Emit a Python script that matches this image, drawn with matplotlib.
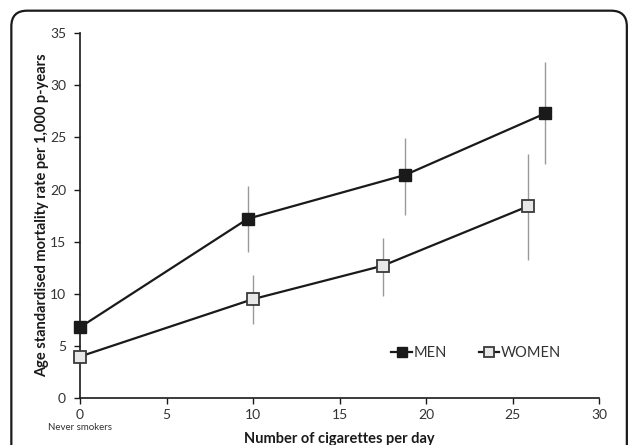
import matplotlib
matplotlib.use("Agg")
import matplotlib.pyplot as plt
from matplotlib.patches import FancyBboxPatch

plt.rcParams['font.family'] = ['Lato', 'DejaVu Sans']

### Data ###
menX = [0, 9.7, 18.8, 26.9]
menY = [6.8, 17.2, 21.4, 27.3]
menLow = [6.8, 14.0, 17.6, 22.4]
menHigh = [6.8, 20.3, 24.9, 32.2]

womenX = [0, 10.0, 17.5, 25.9]
womenY = [4.0, 9.5, 12.7, 18.4]
womenLow = [4.0, 7.1, 9.8, 13.2]
womenHigh = [4.0, 11.8, 15.4, 23.4]

xTicks = [0, 5, 10, 15, 20, 25, 30]
yTicks = [0, 5, 10, 15, 20, 25, 30, 35]

fig = plt.figure(figsize=(6.3, 4.45), dpi=100, facecolor='w')

# rounded border around the figure
frame = FancyBboxPatch((0.018, -0.1), 0.977, 1.076, boxstyle="round,pad=0,rounding_size=0.025",
	transform=fig.transFigure, facecolor='none', edgecolor='#1a1a1a', linewidth=1.6,
	mutation_aspect=630 / 445.0)
fig.patches.append(frame)

ax = fig.add_axes([0.127, 0.105, 0.824, 0.821])

def errs(y, lo, hi):
	return [[v - l for v, l in zip(y, lo)], [h - v for v, h in zip(y, hi)]]

ax.errorbar(menX, menY, yerr=errs(menY, menLow, menHigh), fmt='none', ecolor='#9a9a9a',
	elinewidth=1.0, capsize=0, zorder=1)
ax.errorbar(womenX, womenY, yerr=errs(womenY, womenLow, womenHigh), fmt='none', ecolor='#9a9a9a',
	elinewidth=1.0, capsize=0, zorder=1)

ax.plot(menX, menY, '-', color='#1a1a1a', linewidth=1.6, marker='s', markersize=8.5,
	markerfacecolor='#1a1a1a', markeredgecolor='#1a1a1a', label='MEN', zorder=3, clip_on=False)
ax.plot(womenX, womenY, '-', color='#1a1a1a', linewidth=1.6, marker='s', markersize=8.5,
	markerfacecolor='#e8e8e8', markeredgecolor='#3a3a3a', markeredgewidth=1.3, label='WOMEN',
	zorder=3, clip_on=False)

ax.set_xlim(0, 30)
ax.set_ylim(0, 35)
ax.set_xticks(xTicks)
ax.set_yticks(yTicks)

for side in ['top', 'right']:
	ax.spines[side].set_visible(False)
for side in ['left', 'bottom']:
	ax.spines[side].set_color('#1a1a1a')
	ax.spines[side].set_linewidth(1.2)

ax.tick_params(direction='out', length=4, width=1.0, color='#1a1a1a', labelsize=10, labelcolor='#333333')
ax.tick_params(axis='y', pad=6)
ax.tick_params(axis='x', pad=4)

ax.set_xlabel('Number of cigarettes per day', fontsize=10.5, weight='bold', color='#1a1a1a')
ax.xaxis.set_label_coords(0.5, -0.112)
ax.xaxis.label.set_va('center')
ax.set_ylabel('Age standardised mortality rate per 1,000 p-years', fontsize=10.5, weight='bold',
	color='#1a1a1a')
ax.yaxis.set_label_coords(-0.073, 0.5)
ax.yaxis.label.set_va('center')

ax.text(0, -0.081, 'Never smokers', transform=ax.get_xaxis_transform(), ha='center', va='center',
	fontsize=7, color='#333333')

lgd = ax.legend(loc='center', bbox_to_anchor=(0.763, 0.123), ncol=2, frameon=False, fontsize=10.5,
	handlelength=1.4, handletextpad=0.1, columnspacing=2.2, markerscale=0.8)
for t in lgd.get_texts():
	t.set_color('#333333')

plt.savefig('out.png', dpi=100)
